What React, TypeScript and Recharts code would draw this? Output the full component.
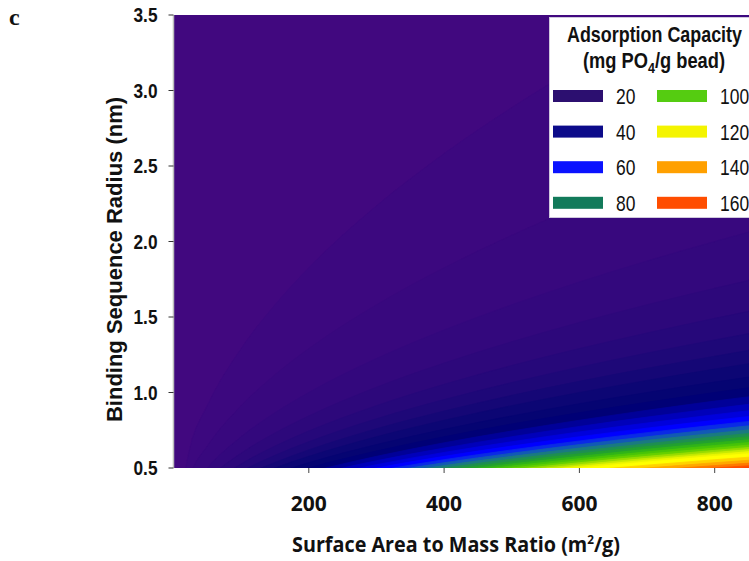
import React from 'react';
import { ComposedChart, Area, XAxis, YAxis, CartesianGrid, Legend } from 'recharts';

// Surface area to mass ratio (m2/g) sample positions
const surfaceArea = [0, 25, 50, 100, 150, 200, 300, 400, 500, 600, 700, 800, 900, 1000];

// Binding sequence radius (nm) of each adsorption-capacity contour, read along surfaceArea
const radiusAt3 = [0, 0.645, 0.913, 1.291, 1.581, 1.826, 2.236, 2.582, 2.887, 3.162, 3.416, 3.651, 3.873, 4.082];
const radiusAt6 = [0, 0.456, 0.645, 0.913, 1.118, 1.291, 1.581, 1.826, 2.041, 2.236, 2.415, 2.582, 2.739, 2.887];
const radiusAt10 = [0, 0.354, 0.5, 0.707, 0.866, 1.0, 1.225, 1.414, 1.581, 1.732, 1.871, 2.0, 2.121, 2.236];
const radiusAt14 = [0, 0.299, 0.423, 0.598, 0.732, 0.845, 1.035, 1.195, 1.336, 1.464, 1.581, 1.69, 1.793, 1.89];
const radiusAt18 = [0, 0.264, 0.373, 0.527, 0.645, 0.745, 0.913, 1.054, 1.179, 1.291, 1.394, 1.491, 1.581, 1.667];
const radiusAt22 = [0, 0.238, 0.337, 0.477, 0.584, 0.674, 0.826, 0.953, 1.066, 1.168, 1.261, 1.348, 1.43, 1.508];
const radiusAt26 = [0, 0.219, 0.31, 0.439, 0.537, 0.62, 0.76, 0.877, 0.981, 1.074, 1.16, 1.24, 1.316, 1.387];
const radiusAt30 = [0, 0.204, 0.289, 0.408, 0.5, 0.577, 0.707, 0.816, 0.913, 1.0, 1.08, 1.155, 1.225, 1.291];
const radiusAt35 = [0, 0.189, 0.267, 0.378, 0.463, 0.535, 0.655, 0.756, 0.845, 0.926, 1.0, 1.069, 1.134, 1.195];
const radiusAt40 = [0, 0.177, 0.25, 0.354, 0.433, 0.5, 0.612, 0.707, 0.791, 0.866, 0.935, 1.0, 1.061, 1.118];
const radiusAt45 = [0, 0.167, 0.236, 0.333, 0.408, 0.471, 0.577, 0.667, 0.745, 0.816, 0.882, 0.943, 1.0, 1.054];
const radiusAt50 = [0, 0.158, 0.224, 0.316, 0.387, 0.447, 0.548, 0.632, 0.707, 0.775, 0.837, 0.894, 0.949, 1.0];
const radiusAt55 = [0, 0.151, 0.213, 0.302, 0.369, 0.426, 0.522, 0.603, 0.674, 0.739, 0.798, 0.853, 0.905, 0.953];
const radiusAt60 = [0, 0.144, 0.204, 0.289, 0.354, 0.408, 0.5, 0.577, 0.645, 0.707, 0.764, 0.816, 0.866, 0.913];
const radiusAt65 = [0, 0.139, 0.196, 0.277, 0.34, 0.392, 0.48, 0.555, 0.62, 0.679, 0.734, 0.784, 0.832, 0.877];
const radiusAt70 = [0, 0.134, 0.189, 0.267, 0.327, 0.378, 0.463, 0.535, 0.598, 0.655, 0.707, 0.756, 0.802, 0.845];
const radiusAt75 = [0, 0.129, 0.183, 0.258, 0.316, 0.365, 0.447, 0.516, 0.577, 0.632, 0.683, 0.73, 0.775, 0.816];
const radiusAt80 = [0, 0.125, 0.177, 0.25, 0.306, 0.354, 0.433, 0.5, 0.559, 0.612, 0.661, 0.707, 0.75, 0.791];
const radiusAt85 = [0, 0.121, 0.171, 0.243, 0.297, 0.343, 0.42, 0.485, 0.542, 0.594, 0.642, 0.686, 0.728, 0.767];
const radiusAt90 = [0, 0.118, 0.167, 0.236, 0.289, 0.333, 0.408, 0.471, 0.527, 0.577, 0.624, 0.667, 0.707, 0.745];
const radiusAt95 = [0, 0.115, 0.162, 0.229, 0.281, 0.324, 0.397, 0.459, 0.513, 0.562, 0.607, 0.649, 0.688, 0.725];
const radiusAt100 = [0, 0.112, 0.158, 0.224, 0.274, 0.316, 0.387, 0.447, 0.5, 0.548, 0.592, 0.632, 0.671, 0.707];
const radiusAt105 = [0, 0.109, 0.154, 0.218, 0.267, 0.309, 0.378, 0.436, 0.488, 0.535, 0.577, 0.617, 0.655, 0.69];
const radiusAt110 = [0, 0.107, 0.151, 0.213, 0.261, 0.302, 0.369, 0.426, 0.477, 0.522, 0.564, 0.603, 0.64, 0.674];
const radiusAt115 = [0, 0.104, 0.147, 0.209, 0.255, 0.295, 0.361, 0.417, 0.466, 0.511, 0.552, 0.59, 0.626, 0.659];
const radiusAt120 = [0, 0.102, 0.144, 0.204, 0.25, 0.289, 0.354, 0.408, 0.456, 0.5, 0.54, 0.577, 0.612, 0.645];
const radiusAt130 = [0, 0.098, 0.139, 0.196, 0.24, 0.277, 0.34, 0.392, 0.439, 0.48, 0.519, 0.555, 0.588, 0.62];
const radiusAt140 = [0, 0.094, 0.134, 0.189, 0.231, 0.267, 0.327, 0.378, 0.423, 0.463, 0.5, 0.535, 0.567, 0.598];
const radiusAt150 = [0, 0.091, 0.129, 0.183, 0.224, 0.258, 0.316, 0.365, 0.408, 0.447, 0.483, 0.516, 0.548, 0.577];
const radiusAt160 = [0, 0.088, 0.125, 0.177, 0.217, 0.25, 0.306, 0.354, 0.395, 0.433, 0.468, 0.5, 0.53, 0.559];
const radiusAt170 = [0, 0.086, 0.121, 0.171, 0.21, 0.243, 0.297, 0.343, 0.383, 0.42, 0.454, 0.485, 0.514, 0.542];

const contourLevels = [3, 6, 10, 14, 18, 22, 26, 30, 35, 40, 45, 50, 55, 60, 65, 70, 75, 80, 85, 90, 95, 100, 105, 110, 115, 120, 130, 140, 150, 160, 170];
const contourRadii = [
  radiusAt3, radiusAt6, radiusAt10, radiusAt14, radiusAt18, radiusAt22, radiusAt26, radiusAt30,
  radiusAt35, radiusAt40, radiusAt45, radiusAt50, radiusAt55, radiusAt60, radiusAt65, radiusAt70,
  radiusAt75, radiusAt80, radiusAt85, radiusAt90, radiusAt95, radiusAt100, radiusAt105, radiusAt110,
  radiusAt115, radiusAt120, radiusAt130, radiusAt140, radiusAt150, radiusAt160, radiusAt170,
];

// styles
const backgroundColor = '#41087f';
const bandColors = [
  '#3c087f', '#38087e', '#33087d', '#2d087b', '#26087a', '#1e0878', '#150776', '#0c0674',
  '#050472', '#000076', '#000098', '#0000ba', '#0000dc', '#0000ff', '#0a2ae6', '#125ab4',
  '#1a7a80', '#1e8f50', '#22a030', '#30b418', '#48c408', '#66d000', '#99dc00', '#c8ea00',
  '#eef600', '#ffff00', '#ffd200', '#ffa800', '#ff7a00', '#ff4e00', '#ff2a00',
];

const legendValues = [20, 40, 60, 80, 100, 120, 140, 160];
const legendColors = ['#2c0f70', '#0c0b8a', '#0a12ff', '#127a5a', '#55cc11', '#f4f400', '#ffa000', '#ff4d00'];

const xTicks = [200, 400, 600, 800, 1000];
const yTicks = [0.5, 1.0, 1.5, 2.0, 2.5, 3.0, 3.5];

const data = surfaceArea.map((sa, i) => {
  const row: Record<string, number> = { sa };
  contourLevels.forEach((c, j) => {
    row['c' + c] = contourRadii[j][i];
  });
  return row;
});

const arial = "'Liberation Sans', Arial, sans-serif";
const calibriLike = "'Open Sans', 'Lato', sans-serif";

const LegendBox = () => (
  <div style={{ width: 232, height: 201, background: '#fff', border: '1px solid #cfc8dc', boxSizing: 'border-box' }}>
    <svg width={232} height={201} style={{ display: 'block' }}>
      <text x={17} y={24} textLength={175} lengthAdjust="spacingAndGlyphs" fontFamily={arial} fontWeight="bold" fontSize={22} fill="#111">
        Adsorption Capacity
      </text>
      <text x={33} y={50} textLength={142} lengthAdjust="spacingAndGlyphs" fontFamily={arial} fontWeight="bold" fontSize={22} fill="#111">
        (mg PO<tspan dy={5} fontSize={15}>4</tspan>
        <tspan dy={-5}>/g bead)</tspan>
      </text>
      {legendValues.map((v, i) => {
        const col = Math.floor(i / 4);
        const row = i % 4;
        const cy = 78 + row * 35.6;
        const sx = col === 0 ? 3 : 107;
        const label = String(v);
        return (
          <g key={v}>
            <rect x={sx} y={cy - 6} width={50} height={12} fill={legendColors[i]} />
            <text
              x={sx + 63}
              y={cy + 8}
              textLength={label.length * 9.7}
              lengthAdjust="spacingAndGlyphs"
              fontFamily={arial}
              fontSize={22}
              fill="#111"
            >
              {label}
            </text>
          </g>
        );
      })}
    </svg>
  </div>
);

const YTick = (props: any) => {
  const { x, y, payload } = props;
  return (
    <text
      x={x}
      y={y}
      dy="0.355em"
      textAnchor="end"
      textLength={24}
      lengthAdjust="spacingAndGlyphs"
      fontFamily={arial}
      fontWeight="bold"
      fontSize={21}
      fill="#111"
    >
      {Number(payload.value).toFixed(1)}
    </text>
  );
};

const YTitle = (props: any) => {
  const vb = props.viewBox || { x: 0, y: 15, width: 173.5, height: 453 };
  const x = vb.x + 122;
  const y = vb.y + vb.height / 2 + 18;
  return (
    <text
      x={x}
      y={y}
      transform={`rotate(-90, ${x}, ${y})`}
      textAnchor="middle"
      fontFamily={arial}
      fontWeight="bold"
      fontSize={22}
      fill="#111"
    >
      Binding Sequence Radius (nm)
    </text>
  );
};

const XTitle = (props: any) => {
  const vb = props.viewBox || { x: 173.5, y: 468, width: 676.5, height: 93 };
  const x = vb.x + 118.5;
  const y = vb.y + 84;
  return (
    <text
      x={x}
      y={y}
      textLength={328}
      lengthAdjust="spacingAndGlyphs"
      fontFamily={calibriLike}
      fontWeight={700}
      fontSize={22}
      fill="#111"
    >
      Surface Area to Mass Ratio (m<tspan dy={-8} fontSize={13}>2</tspan>
      <tspan dy={8}>/g)</tspan>
    </text>
  );
};

export default function App() {
  return (
    <div style={{ position: 'fixed', left: 0, top: 0, width: 749, height: 561, overflow: 'hidden', background: '#fff' }}>
      <div
        style={{
          position: 'absolute',
          left: 9,
          top: 5,
          fontFamily: "'Liberation Serif', 'Times New Roman', serif",
          fontWeight: 'bold',
          fontSize: 24,
          lineHeight: '24px',
          color: '#111',
        }}
      >
        c
      </div>
      <ComposedChart width={900} height={561} data={data} margin={{ top: 15, right: 50, bottom: 0, left: 0 }}>
        <CartesianGrid horizontal={false} vertical={false} fill={backgroundColor} stroke="none" />
        {contourLevels.map((c, j) => (
          <Area
            key={c}
            dataKey={'c' + c}
            type="monotone"
            stroke={bandColors[j]}
            strokeWidth={0.8}
            fill={bandColors[j]}
            fillOpacity={1}
            baseValue={0.5}
            dot={false}
            activeDot={false}
            isAnimationActive={false}
          />
        ))}
        <XAxis
          dataKey="sa"
          type="number"
          domain={[0, 1000]}
          ticks={xTicks}
          allowDataOverflow
          height={93}
          axisLine={false}
          tickLine={{ stroke: '#444' }}
          tickSize={5}
          tickMargin={23}
          tick={{ fontFamily: calibriLike, fontWeight: 700, fontSize: 21, fill: '#111' }}
          label={<XTitle />}
        />
        <YAxis
          type="number"
          domain={[0.5, 3.5]}
          ticks={yTicks}
          allowDataOverflow
          width={173.5}
          axisLine={{ stroke: '#bdbdbd', strokeWidth: 1.5 }}
          tickLine={{ stroke: '#333' }}
          tickSize={5}
          tickMargin={11}
          tick={<YTick />}
          label={<YTitle />}
        />
        <Legend
          layout="vertical"
          align="center"
          verticalAlign="middle"
          wrapperStyle={{ left: 549, top: 17, width: 232, height: 201 }}
          content={() => <LegendBox />}
        />
      </ComposedChart>
    </div>
  );
}
